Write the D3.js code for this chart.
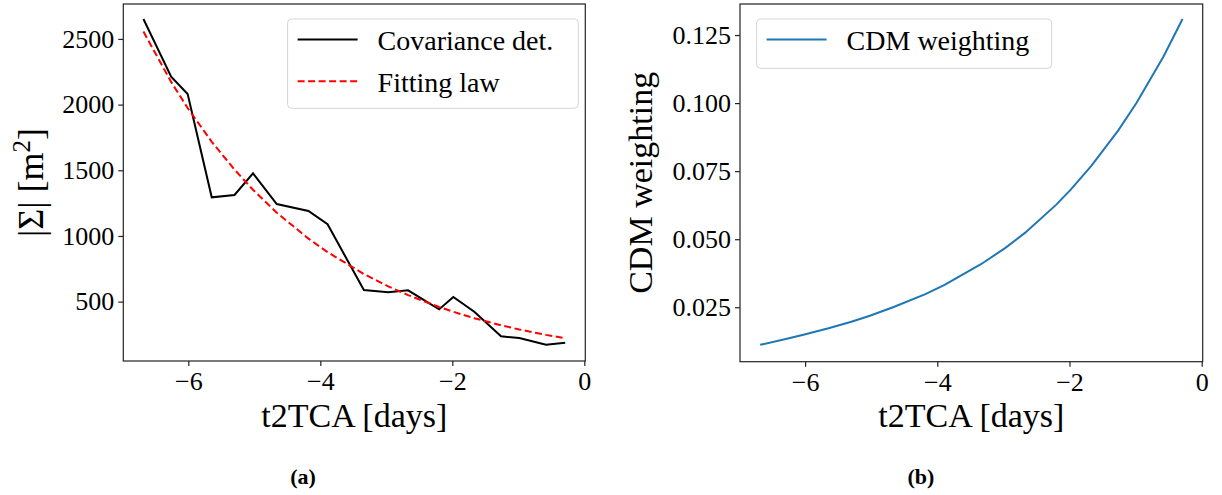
<!DOCTYPE html>
<html>
<head>
<meta charset="utf-8">
<script src="https://cdn.jsdelivr.net/npm/d3@7"></script>
<style>
  body { margin: 0; background: #fff; }
  svg { display: block; font-family: 'Liberation Serif', 'DejaVu Serif', serif; }
  .tick text { fill: #000; }
</style>
</head>
<body>
<svg id="chart" width="1222" height="495"></svg>
<script>
// time to closest approach, days
const t2tca = [-6.68, -6.26, -6.01, -5.645, -5.3, -5.02, -4.66, -4.18, -3.89, -3.34,
  -2.97, -2.67, -2.2, -1.985, -1.667, -1.262, -0.985, -0.58, -0.29];
// covariance determinant |Sigma| [m^2]
const covDet = [2652, 2213, 2081, 1294, 1312, 1477, 1243, 1190, 1089, 588,
  571, 586, 441, 535, 423, 236, 223, 172, 187];
// fitted law
const fitLaw = [2556, 2173, 1974, 1717, 1505, 1352, 1177, 980, 877, 710,
  616, 550, 459, 423, 374, 320, 288, 247, 221];
// CDM weighting
const cdmWeight = [0.0112, 0.0135, 0.015, 0.0173, 0.0197, 0.0219, 0.0251, 0.0298, 0.0332, 0.0408,
  0.0468, 0.0524, 0.0627, 0.0681, 0.077, 0.09, 0.1001, 0.117, 0.1309];

const xTicks = [-6, -4, -2, 0];
const sigmaTicks = [500, 1000, 1500, 2000, 2500];
const weightTicks = [0.025, 0.05, 0.075, 0.1, 0.125];

const svg = d3.select('#chart');
const tickFont = 26;

function frame(g, x, y) {
  g.append('rect')
    .attr('x', x.range()[0]).attr('y', y.range()[1])
    .attr('width', x.range()[1] - x.range()[0])
    .attr('height', y.range()[0] - y.range()[1])
    .attr('fill', 'none').attr('stroke', '#222').attr('stroke-width', 1.2);
}

function axes(g, x, y, yTicks, yFmt) {
  const bottom = y.range()[0];
  const left = x.range()[0];
  const xa = g.append('g')
    .attr('transform', `translate(0,${bottom})`)
    .call(d3.axisBottom(x).tickValues(xTicks).tickFormat(d3.format('d')).tickSize(5).tickPadding(6));
  const ya = g.append('g')
    .attr('transform', `translate(${left},0)`)
    .call(d3.axisLeft(y).tickValues(yTicks).tickFormat(yFmt).tickSize(5).tickPadding(4));
  [xa, ya].forEach((a) => {
    a.select('.domain').remove();
    a.selectAll('.tick line').attr('stroke', '#222').attr('stroke-width', 1.2);
    a.selectAll('.tick text').attr('font-size', tickFont).attr('font-family', 'Liberation Serif');
  });
  frame(g, x, y);
  g.append('text')
    .attr('x', (x.range()[0] + x.range()[1]) / 2)
    .attr('y', 427)
    .attr('text-anchor', 'middle')
    .attr('font-size', 34)
    .text('t2TCA [days]');
}

function legend(g, x0, y0, w, h, items) {
  g.append('rect')
    .attr('x', x0).attr('y', y0).attr('width', w).attr('height', h)
    .attr('rx', 4).attr('fill', '#fff').attr('fill-opacity', 0.8)
    .attr('stroke', '#d6d6d6').attr('stroke-width', 1);
  items.forEach((it, i) => {
    const cy = y0 + 20.5 + i * 41.7;
    g.append('line')
      .attr('x1', x0 + 10).attr('x2', x0 + 70)
      .attr('y1', cy).attr('y2', cy)
      .attr('stroke', it.color).attr('stroke-width', it.width)
      .attr('stroke-dasharray', it.dash || null);
    g.append('text')
      .attr('x', x0 + 90).attr('y', cy + 10.5)
      .attr('font-size', 28)
      .text(it.label);
  });
}

// (a) covariance determinant
const xL = d3.scaleLinear().domain([-6.985, 0.015]).range([123.3, 585.3]);
const yL = d3.scaleLinear().domain([48, 2766]).range([361, 4]);
const gL = svg.append('g');

const lineL = (vals) => d3.line().x((d, i) => xL(t2tca[i])).y((d) => yL(d))(vals);

gL.append('path').attr('d', lineL(covDet))
  .attr('fill', 'none').attr('stroke', '#000').attr('stroke-width', 2);
gL.append('path').attr('d', lineL(fitLaw))
  .attr('fill', 'none').attr('stroke', '#ff0000').attr('stroke-width', 2)
  .attr('stroke-dasharray', '7,3.5');

axes(gL, xL, yL, sigmaTicks, d3.format('d'));

const yLabL = gL.append('text')
  .attr('transform', `translate(43,${(4 + 361) / 2}) rotate(-90)`)
  .attr('text-anchor', 'middle')
  .attr('font-size', 36);
yLabL.append('tspan').text('|Σ| [m');
yLabL.append('tspan').attr('font-size', 25).attr('dy', -13).text('2');
yLabL.append('tspan').attr('dy', 13).text(']');

legend(gL, 287.6, 19, 290.7, 89.3, [
  { label: 'Covariance det.', color: '#000', width: 2 },
  { label: 'Fitting law', color: '#ff0000', width: 2, dash: '7,3.5' }
]);

// (b) CDM weighting
const xR = d3.scaleLinear().domain([-6.985, 0.015]).range([740, 1202.7]);
const yR = d3.scaleLinear().domain([0.005, 0.1364]).range([361.7, 4]);
const gR = svg.append('g');

gR.append('path')
  .attr('d', d3.line().x((d, i) => xR(t2tca[i])).y((d) => yR(d))(cdmWeight))
  .attr('fill', 'none').attr('stroke', '#1f77b4').attr('stroke-width', 2);

axes(gR, xR, yR, weightTicks, d3.format('.3f'));

gR.append('text')
  .attr('transform', `translate(652,${(4 + 361.7) / 2}) rotate(-90)`)
  .attr('text-anchor', 'middle')
  .attr('font-size', 34)
  .text('CDM weighting');

legend(gR, 756.6, 19, 295, 49.3, [
  { label: 'CDM weighting', color: '#1f77b4', width: 2 }
]);

// captions
svg.append('text').attr('x', 303).attr('y', 484).attr('text-anchor', 'middle')
  .attr('font-size', 22).attr('font-weight', 'bold').text('(a)');
svg.append('text').attr('x', 921).attr('y', 484).attr('text-anchor', 'middle')
  .attr('font-size', 22).attr('font-weight', 'bold').text('(b)');
</script>
</body>
</html>
